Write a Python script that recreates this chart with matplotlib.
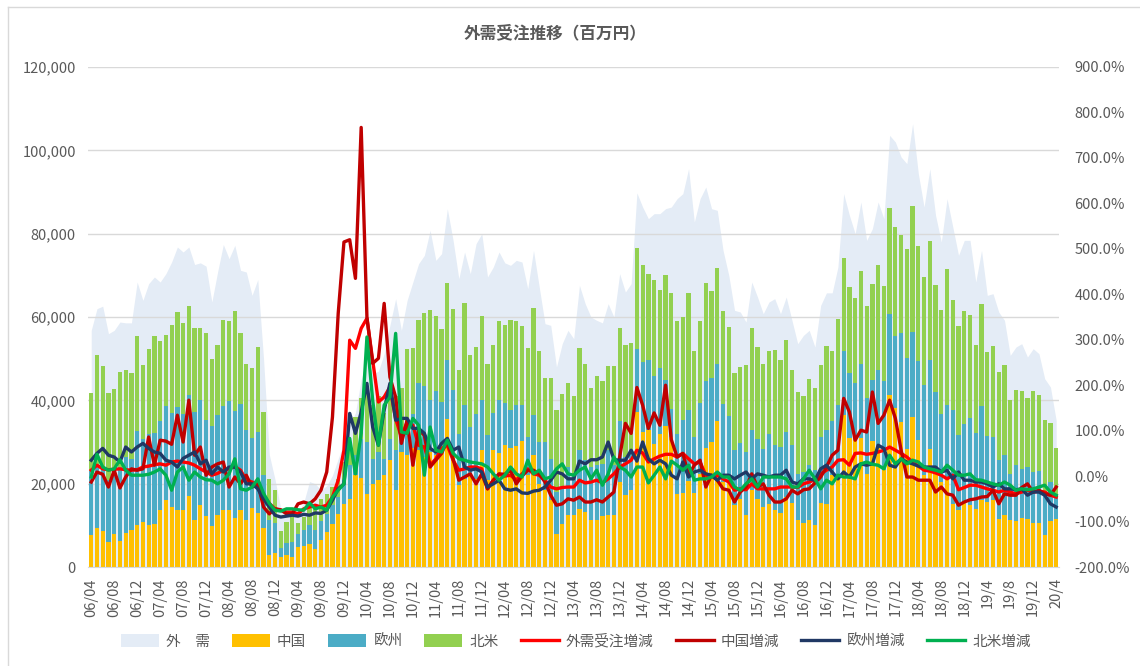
import numpy as np
import matplotlib
matplotlib.use('Agg')
import matplotlib.pyplot as plt
from matplotlib.ticker import FuncFormatter
from matplotlib.lines import Line2D

plt.rcParams['font.family'] = ['Noto Sans CJK JP', 'DejaVu Sans']

# monthly data, 2006/04 - 2020/04 (millions of yen / yoy %)
tick_labels = ['06/04', '06/08', '06/12', '07/04', '07/08', '07/12', '08/04', '08/08', '08/12',
               '09/04', '09/08', '09/12', '10/04', '10/08', '10/12', '11/04', '11/08', '11/12',
               '12/04', '12/08', '12/12', '13/04', '13/08', '13/12', '14/04', '14/08', '14/12',
               '15/04', '15/08', '15/12', '16/04', '16/08', '16/12', '17/04', '17/08', '17/12',
               '18/04', '18/08', '18/12', '19/4', '19/8', '19/12', '20/4']

gaiju = [56800, 62000, 62600, 56000, 56800, 58800, 58600, 58600, 68400, 64000,
         68000, 69600, 68400, 70400, 73200, 76800, 75600, 76800, 72600, 73000,
         72200, 63600, 70800, 77400, 74000, 77200, 71200, 70800, 65200, 69000,
         50000, 27000, 21000, 14000, 12500, 13500, 13000, 15500, 20500, 20000,
         18500, 19500, 22000, 26000, 30000, 34000, 37000, 45000, 50000, 46400,
         47000, 51200, 58000, 64400, 56800, 64000, 68400, 72800, 74800, 80800,
         73600, 75200, 86000, 78400, 69200, 75600, 70400, 77600, 80000, 69600,
         72000, 75600, 73000, 72400, 73600, 73200, 66800, 76000, 67200, 58400,
         58000, 48000, 53600, 56800, 54800, 67600, 63200, 60000, 59200, 58600,
         63200, 60000, 70400, 66000, 68000, 89800, 86400, 83600, 84800, 84800,
         86000, 86400, 88400, 89600, 95600, 82800, 88400, 91200, 86000, 85600,
         76000, 70000, 61600, 61200, 58800, 68400, 64800, 60800, 63600, 64400,
         60800, 64800, 59200, 53600, 55600, 56800, 52800, 62800, 65800, 65800,
         72000, 89600, 84400, 80000, 87600, 78400, 81200, 87600, 83600, 103600,
         102000, 98400, 96800, 106400, 94400, 86400, 95600, 84400, 78000, 88400,
         81600, 74800, 78400, 78400, 68400, 76000, 65200, 65600, 61200, 59200,
         50800, 52800, 53600, 50400, 52400, 51200, 45200, 43200, 35200]

china = [7600, 9400, 8600, 5900, 7900, 6300, 8100, 9000, 10000, 10800,
         10000, 10400, 13600, 16200, 14300, 13800, 13700, 17100, 11300, 14800,
         12300, 9800, 12400, 13600, 13600, 11800, 13600, 11200, 14100, 12900,
         9400, 3000, 3400, 2400, 3000, 2400, 4800, 5000, 5600, 4400,
         6600, 8400, 10400, 12800, 15200, 16400, 22000, 21400, 17600, 20000,
         21000, 22000, 25800, 18400, 27600, 27000, 28500, 28000, 26500, 27500,
         27000, 29000, 35600, 27000, 19600, 21200, 22000, 21200, 28000, 20800,
         28000, 27400, 29200, 28600, 29000, 30200, 22000, 26800, 20000, 18400,
         16000, 8000, 10400, 12600, 12400, 14000, 13200, 11200, 11400, 12200,
         12400, 12400, 20400, 17200, 18400, 37200, 32400, 32800, 29600, 32000,
         33800, 31200, 17600, 17800, 20600, 17800, 22400, 28600, 30000, 35000,
         20500, 20500, 15000, 16400, 12400, 18400, 16400, 14400, 15200, 13600,
         13000, 16800, 15400, 11400, 10600, 11400, 10000, 15400, 15200, 22000,
         22000, 36400, 31000, 30600, 31000, 22400, 30200, 28600, 23300, 41200,
         38200, 34800, 28400, 36000, 30400, 22000, 28400, 23600, 20400, 21200,
         15200, 13600, 15600, 14800, 14000, 16000, 15600, 16000, 11600, 12400,
         11400, 11000, 11800, 11500, 10600, 10600, 7600, 11000, 11600]

europe = [15400, 15100, 15400, 15100, 14100, 17700, 18400, 17000, 22600, 20000,
          22000, 21800, 21400, 22400, 22700, 24600, 23100, 24200, 25900, 25200,
          23100, 24000, 24100, 25100, 26200, 25600, 25500, 21600, 16900, 19500,
          12800, 8400, 7200, 2200, 2800, 3600, 3200, 3800, 4400, 4400,
          4400, 4400, 4400, 4000, 5600, 8000, 4800, 9400, 12400, 6000,
          6600, 4000, 5000, 9600, 4400, 7000, 8300, 16200, 16900, 12700,
          15200, 10600, 14000, 15400, 12400, 17600, 11600, 15600, 12200, 11000,
          9000, 12600, 10200, 9000, 10000, 8800, 9200, 9600, 10000, 11600,
          10000, 10000, 8400, 11400, 10000, 14000, 12400, 12800, 13000, 12600,
          15600, 12000, 14600, 9200, 9600, 15200, 16800, 16800, 16200, 15800,
          11000, 6800, 14400, 17400, 17200, 13400, 17000, 16000, 15400, 13800,
          18600, 15700, 13000, 13400, 15200, 14400, 14400, 14000, 16800, 15800,
          15800, 15600, 14000, 11000, 12200, 13000, 13200, 15800, 17800, 13000,
          16800, 15400, 15600, 13600, 17800, 18200, 14800, 18800, 21300, 19500,
          17200, 21400, 21800, 20400, 19000, 21800, 21300, 18300, 16400, 17600,
          22400, 18200, 18800, 21000, 18200, 22600, 15900, 15200, 14000, 14400,
          11000, 13400, 11800, 12500, 12200, 12400, 10400, 9400, 6000]

namerica = [18800, 26500, 24200, 20800, 20700, 22900, 20900, 20600, 22800, 17800,
            20400, 23300, 19200, 17000, 21000, 22700, 21700, 21300, 20100, 17400,
            20800, 16200, 16900, 20700, 19200, 24000, 17000, 16000, 16800, 20500,
            15000, 9800, 8000, 4000, 5000, 6000, 2600, 3200, 4200, 5600,
            5400, 4800, 4400, 4400, 4400, 3600, 9200, 9700, 12000, 13000,
            13400, 11000, 12200, 13000, 11000, 18400, 15800, 15200, 17600, 21400,
            18000, 17600, 18600, 19600, 15400, 24600, 17200, 16000, 20000, 17000,
            16400, 19000, 18600, 21600, 20000, 18800, 21400, 25800, 21800, 15400,
            19400, 19800, 22800, 20200, 18600, 24600, 23200, 19000, 21400, 19800,
            20200, 23800, 22400, 27000, 25800, 24200, 23200, 20800, 23200, 18600,
            25300, 27800, 27000, 24800, 28000, 20600, 19600, 23600, 20800, 23000,
            22300, 21400, 18600, 18200, 21000, 24600, 22000, 20400, 19800, 22700,
            20800, 22200, 17800, 19600, 18200, 20800, 19800, 17200, 20000, 16800,
            20800, 22400, 20600, 20400, 22200, 22000, 23000, 25000, 22800, 25500,
            26200, 23400, 26200, 30200, 27600, 25800, 28500, 25900, 24800, 32800,
            26600, 26000, 27000, 24600, 21200, 24600, 20100, 21800, 21100, 21600,
            17800, 18200, 18600, 16600, 19400, 18200, 17400, 14200, 11000]

gaiju_yoy = [13, 24, 16, 14, 15, 16, 14, 13, 14, 20,
             22, 25, 27, 24, 31, 33, 31, 29, 24, 16,
             9, 2, 6, 13, 16, 21, 13, -9, -13, -20,
             -42, -60, -72, -75, -79, -79, -83, -72, -68, -64,
             -68, -64, -46, -9, 57, 299, 281, 325, 347, 255,
             163, 174, 196, 126, 86, 119, 112, 68, 64, 24,
             38, 61, 68, 35, 13, 16, 20, 20, 16, -28,
             -9, 4, 0, 2, -9, 5, 16, 5, 2, -9,
             -24, -28, -25, -24, -24, -9, -15, -13, -9, -15,
             -6, 5, 20, 27, 35, 57, 51, 31, 38, 44,
             48, 48, 42, 50, 38, 27, 31, 2, -2, 2,
             -6, -13, -31, -28, -30, -17, -28, -28, -28, -28,
             -24, -24, -24, -25, -17, -13, -8, 5, 13, 20,
             35, 36, 24, 50, 51, 48, 50, 53, 57, 64,
             57, 50, 42, 31, 22, 13, 11, 7, 2, -6,
             2, -30, -25, -20, -20, -24, -28, -31, -35, -31,
             -35, -39, -35, -31, -35, -33, -35, -42, -46]

china_yoy = [-13, 9, 4, -24, 13, -26, -2, 16, 13, 16,
             86, 24, 79, 77, 70, 134, 75, 167, 46, 64,
             2, 20, 27, 31, -24, -2, -17, 2, -24, -17,
             -68, -83, -72, -74, -83, -83, -61, -57, -61, -50,
             -31, 9, 130, 358, 515, 520, 435, 767, 350, 248,
             259, 380, 218, 174, 72, 123, 24, 101, 90, 20,
             35, 50, 79, 38, -9, -2, 5, -17, 5, -28,
             -9, 5, 4, 13, -17, 0, 13, 13, 5, -13,
             -42, -64, -61, -50, -53, -46, -57, -57, -52, -57,
             -46, -35, 42, 116, 94, 195, 156, 105, 139, 112,
             200, 80, 42, 50, 2, 24, 35, -24, 2, -9,
             -28, -31, -57, -35, -24, 5, -24, -17, -42, -57,
             -57, -50, -31, -39, -30, -28, -15, -2, 20, 46,
             57, 171, 141, 79, 101, 97, 185, 116, 134, 167,
             127, 57, -2, -2, -9, -9, -9, -35, -24, -39,
             -42, -64, -57, -52, -50, -46, -45, -31, -61, -39,
             -42, -42, -25, -17, -35, -31, -39, -42, -24]

europe_yoy = [35, 50, 61, 46, 42, 31, 64, 53, 64, 72,
              61, 53, 50, 35, 31, 20, 39, 46, 53, 27,
              35, 5, 20, 9, 20, 20, 9, -17, -17, -28,
              -50, -68, -86, -90, -88, -86, -88, -84, -86, -81,
              -82, -75, -53, -28, -17, 138, 94, 141, 204, 108,
              68, 145, 204, 123, 127, 127, 105, 105, 94, 61,
              53, 72, 83, 57, 64, 20, 13, 16, 9, -24,
              -17, -9, -28, -31, -28, -37, -38, -33, -31, -24,
              -9, 9, 5, -6, -6, 33, 27, 36, 36, 42,
              75, 36, 35, 35, 57, 33, 75, 38, 27, 35,
              27, 2, -6, 31, -2, 9, 13, 5, 2, -9,
              2, 2, -6, 2, 9, -6, 5, 2, -2, 2,
              2, 13, -13, -17, -6, -6, -9, 16, 24, 9,
              -6, 9, -2, 20, 27, 24, 27, 68, 61, 24,
              20, 38, 31, 27, 22, 20, 20, 20, 9, 13,
              -6, 9, -9, -9, -13, -13, -17, -24, -17, -28,
              -28, -30, -28, -42, -35, -35, -42, -61, -68]

namerica_yoy = [-2, 48, 20, 13, 16, 36, 13, 2, 2, 2,
                4, 9, 16, 2, -31, 9, 20, -9, 9, -2,
                -8, -9, -17, -9, 5, 38, -28, -31, -24, -6,
                -38, -60, -75, -77, -72, -72, -74, -75, -59, -72,
                -68, -75, -46, -31, -17, 83, 5, 94, 306, 167,
                68, 156, 174, 314, 97, 94, 127, 112, 2, 108,
                57, 53, 79, 50, 38, 35, 31, 29, 27, 20,
                5, -9, 2, 20, 5, -2, 35, 5, 13, -6,
                -2, 16, 27, 5, 2, 13, 20, -6, 13, -20,
                5, 42, 20, 13, -2, 20, 20, -15, 2, 20,
                -6, 33, 24, 13, 24, -9, -6, -6, -2, 9,
                -2, -2, -24, -31, -17, -6, -24, -2, -2, -2,
                -2, -6, -24, -24, -6, 13, -6, -28, -9, -17,
                2, -2, -2, -6, 27, 31, 26, 24, 16, 46,
                27, 38, 27, 35, 31, 20, 16, 13, 9, 24,
                13, 2, 2, 5, -8, -9, -13, -17, -20, -13,
                -20, -31, -28, -30, -28, -24, -20, -35, -42]

grey = '#595959'
x = np.arange(len(gaiju))
china = np.array(china)
europe = np.array(europe)
namerica = np.array(namerica)

fig = plt.figure(figsize=(11.4, 6.66), dpi=100)
ax = fig.add_axes([0.0775, 0.1486, 0.8515, 0.7508])

ax.fill_between(x, 0, gaiju, color='#E4ECF6', lw=0, zorder=0.2, label='外　需')
ax.bar(x, china, width=0.74, color='#FFC000', zorder=1, label='中国')
ax.bar(x, europe, width=0.74, bottom=china, color='#4BACC6', zorder=1, label='欧州')
ax.bar(x, namerica, width=0.74, bottom=china + europe, color='#92D050', zorder=1, label='北米')

ax.set_xlim(-0.5, len(x) - 0.5)
ax.set_ylim(0, 120000)
ax.set_yticks(np.arange(0, 120001, 20000))
ax.yaxis.set_major_formatter(FuncFormatter(lambda v, p: f'{v:,.0f}'))
ax.set_axisbelow(True)
ax.yaxis.grid(True, color='#D9D9D9', lw=1)
ax.set_xticks(x[::4])
ax.set_xticklabels(tick_labels, rotation=90)
ax.tick_params(axis='y', length=0, pad=9, labelsize=10.5, labelcolor=grey)
ax.tick_params(axis='x', length=0, pad=8, labelsize=10.5, labelcolor=grey)
for s in ['top', 'left', 'right']:
    ax.spines[s].set_visible(False)
ax.spines['bottom'].set_color('#D9D9D9')

ax2 = ax.twinx()
ax2.plot(x, gaiju_yoy, color='#FF0000', lw=2.4, solid_joinstyle='round', label='外需受注増減')
ax2.plot(x, china_yoy, color='#C00000', lw=2.4, solid_joinstyle='round', label='中国増減')
ax2.plot(x, europe_yoy, color='#203864', lw=2.4, solid_joinstyle='round', label='欧州増減')
ax2.plot(x, namerica_yoy, color='#00B050', lw=2.4, solid_joinstyle='round', label='北米増減')
ax2.set_ylim(-200, 900)
ax2.set_yticks(np.arange(-200, 901, 100))
ax2.yaxis.set_major_formatter(FuncFormatter(lambda v, p: f'{v:.1f}%'))
ax2.tick_params(axis='y', length=0, pad=11, labelsize=10.5, labelcolor=grey)
for s in ax2.spines.values():
    s.set_visible(False)

fig.text(0.487, 0.950, '外需受注推移（百万円）', ha='center', va='center',
         fontsize=12, fontweight='bold', color=grey)

h1, l1 = ax.get_legend_handles_labels()
h2, l2 = ax2.get_legend_handles_labels()
fig.legend(h1 + h2, l1 + l2, loc='center', bbox_to_anchor=(0.505, 0.037), ncol=8,
           frameon=False, fontsize=10.5, labelcolor=grey, handlelength=2.6,
           handleheight=1.0, columnspacing=1.5, handletextpad=0.5)

# chart frame
fig.add_artist(Line2D([8 / 1140, 8 / 1140], [0, 1 - 7 / 666], transform=fig.transFigure,
                      color='#D9D9D9', lw=1))
fig.add_artist(Line2D([8 / 1140, 1], [1 - 7 / 666, 1 - 7 / 666], transform=fig.transFigure,
                      color='#D9D9D9', lw=1))

fig.savefig('out.png', dpi=100)
